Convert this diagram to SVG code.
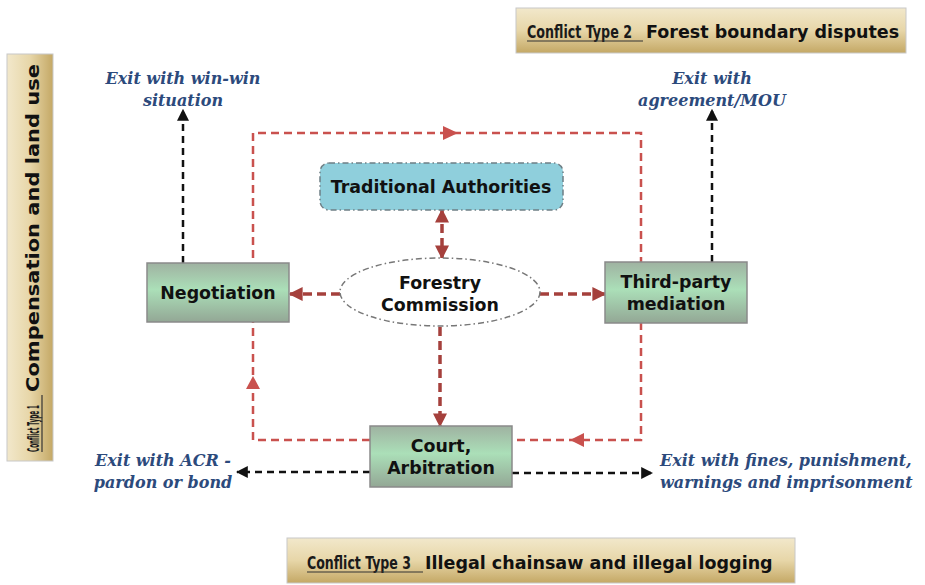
<svg xmlns="http://www.w3.org/2000/svg" width="925" height="585" viewBox="0 0 925 585">
<defs>
<linearGradient id="gBeigeV" x1="0" y1="0" x2="0" y2="1">
<stop offset="0" stop-color="#f2e8cb"/><stop offset="0.5" stop-color="#e7d6a8"/><stop offset="1" stop-color="#c4a865"/>
</linearGradient>
<linearGradient id="gBeigeH" x1="0" y1="0" x2="1" y2="0">
<stop offset="0" stop-color="#f2e8cb"/><stop offset="0.5" stop-color="#e7d6a8"/><stop offset="1" stop-color="#c4a865"/>
</linearGradient>
<linearGradient id="gGreen" x1="0" y1="0" x2="0" y2="1">
<stop offset="0" stop-color="#9fb2a1"/><stop offset="0.45" stop-color="#abdfb8"/><stop offset="1" stop-color="#93a795"/>
</linearGradient>
<marker id="mRed" viewBox="0 0 10 10" refX="9" refY="5" markerWidth="14" markerHeight="14" markerUnits="userSpaceOnUse" orient="auto-start-reverse">
<path d="M0 0 L10 5 L0 10 Z" fill="#a5403c"/>
</marker>
<marker id="mBlack" viewBox="0 0 10 10" refX="9" refY="5" markerWidth="12" markerHeight="12" markerUnits="userSpaceOnUse" orient="auto-start-reverse">
<path d="M0 0 L10 5 L0 10 Z" fill="#111"/>
</marker>
</defs>
<style>
.banner{stroke:#c8c8c8;stroke-width:1}
.ctype{font-family:"Liberation Sans Narrow","DejaVu Sans Condensed",sans-serif;font-weight:bold;font-size:17px;fill:#1a1a1a}
.ctitle{font-family:"DejaVu Sans",Verdana,sans-serif;font-weight:bold;font-size:17.5px;fill:#111}
.ul{stroke:#333;stroke-width:1.2}
.box{fill:url(#gGreen);stroke:#8a8a8a;stroke-width:1.5}
.lbl{font-family:"DejaVu Sans",Verdana,sans-serif;font-weight:bold;font-size:17.4px;fill:#111;text-anchor:middle}
.exit{font-family:"DejaVu Serif",serif;font-weight:bold;font-style:italic;font-size:16px;fill:#2c4a7c;text-anchor:middle}
.loop{fill:none;stroke:#c9514e;stroke-width:2.5;stroke-dasharray:8 5}
.dred{fill:none;stroke:#a5403c;stroke-width:3.5;stroke-dasharray:9 5}
.blk{fill:none;stroke:#111;stroke-width:2.5;stroke-dasharray:7 5}
</style>

<g id="type2">
<rect x="516" y="8" width="390" height="45" fill="url(#gBeigeV)" class="banner"/>
<text x="527" y="38" class="ctype" textLength="105" lengthAdjust="spacingAndGlyphs">Conflict Type 2</text>
<line x1="527" y1="41" x2="643" y2="41" class="ul"/>
<text x="646" y="38" class="ctitle">Forest boundary disputes</text>
</g>

<g id="type1">
<rect x="7" y="54" width="46" height="407" fill="url(#gBeigeH)" class="banner"/>
<g transform="translate(39,452) rotate(-90)">
<text x="0" y="0" class="ctype" style="font-size:16px" textLength="47" lengthAdjust="spacingAndGlyphs">Conflict Type 1</text>
<line x1="0" y1="3" x2="57" y2="3" class="ul"/>
<text x="60" y="0" class="ctitle" textLength="328" lengthAdjust="spacingAndGlyphs">Compensation and land use</text>
</g>
</g>

<g id="type3">
<rect x="287" y="538" width="508" height="45" fill="url(#gBeigeV)" class="banner"/>
<text x="307" y="569" class="ctype" textLength="104" lengthAdjust="spacingAndGlyphs">Conflict Type 3</text>
<line x1="307" y1="572" x2="423" y2="572" class="ul"/>
<text x="425" y="569" class="ctitle">Illegal chainsaw and illegal logging</text>
</g>

<g id="connectors">
<path d="M370 440 H253 V133 H641 V440 H512" class="loop"/>
<path d="M443 126 L458 133 L443 140 Z" fill="#c9514e"/>
<path d="M246 389 L253 376 L260 389 Z" fill="#c9514e"/>
<path d="M584 433 L570 440 L584 447 Z" fill="#c9514e"/>
<line x1="442" y1="210" x2="442" y2="258" class="dred" marker-start="url(#mRed)" marker-end="url(#mRed)"/>
<line x1="340" y1="294" x2="290" y2="294" class="dred" marker-end="url(#mRed)"/>
<line x1="540" y1="294" x2="605" y2="294" class="dred" marker-end="url(#mRed)"/>
<line x1="440" y1="327" x2="440" y2="426" class="dred" marker-end="url(#mRed)"/>
<line x1="183" y1="263" x2="183" y2="110" class="blk" marker-end="url(#mBlack)"/>
<line x1="712" y1="262" x2="712" y2="110" class="blk" marker-end="url(#mBlack)"/>
<line x1="370" y1="472" x2="237" y2="472" class="blk" marker-end="url(#mBlack)"/>
<line x1="512" y1="473" x2="652" y2="473" class="blk" marker-end="url(#mBlack)"/>
</g>

<g id="traditional">
<rect x="320" y="163" width="243" height="47" rx="9" fill="#8fcfdc" stroke="#6e7f85" stroke-width="1.5" stroke-dasharray="6 3 1.5 3"/>
<text x="441" y="193" class="lbl">Traditional Authorities</text>
</g>

<g id="forestry">
<ellipse cx="440" cy="292" rx="100" ry="34" fill="#fff" stroke="#777" stroke-width="1.5" stroke-dasharray="6 3 1.5 3"/>
<text x="440" y="289" class="lbl">Forestry</text>
<text x="440" y="311" class="lbl">Commission</text>
</g>

<g id="negotiation">
<rect x="147" y="263" width="142" height="59" class="box"/>
<text x="218" y="299" class="lbl">Negotiation</text>
</g>

<g id="thirdparty">
<rect x="605" y="262" width="142" height="61" class="box"/>
<text x="676" y="288" class="lbl">Third-party</text>
<text x="676" y="310" class="lbl">mediation</text>
</g>

<g id="court">
<rect x="370" y="426" width="142" height="61" class="box"/>
<text x="441" y="452" class="lbl">Court,</text>
<text x="441" y="474" class="lbl">Arbitration</text>
</g>

<g id="exits">
<text x="183" y="84" class="exit">Exit with win-win</text>
<text x="183" y="106" class="exit">situation</text>
<text x="712" y="84" class="exit">Exit with</text>
<text x="712" y="106" class="exit">agreement/MOU</text>
<text x="163" y="466" class="exit">Exit with ACR -</text>
<text x="163" y="488" class="exit">pardon or bond</text>
<text x="660" y="466" class="exit" style="text-anchor:start">Exit with fines, punishment,</text>
<text x="660" y="488" class="exit" style="text-anchor:start">warnings and imprisonment</text>
</g>
</svg>
